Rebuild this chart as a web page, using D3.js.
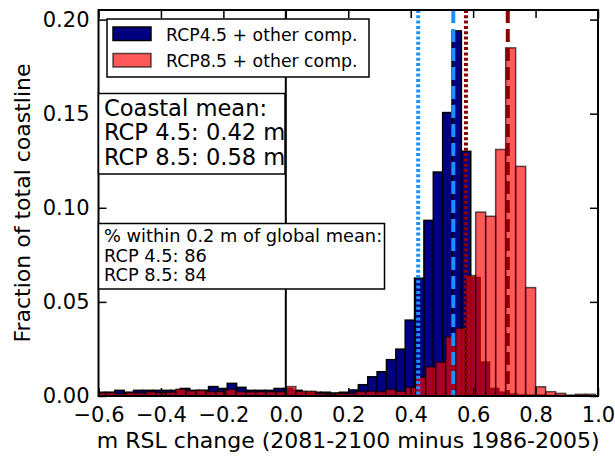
<html>
<head>
<meta charset="utf-8">
<script src="https://cdn.jsdelivr.net/npm/d3@7"></script>
<style>
  body { margin: 0; background: #fff; }
  text { font-family: "DejaVu Sans", sans-serif; }
</style>
</head>
<body>
<svg width="615" height="457"></svg>
<script>
// histogram bins (left edge of first bin, bin width) and fraction per bin
var blueStart = -0.6076, blueWidth = 0.03;
var blueValues = [0.002, 0.002, 0.003, 0.002, 0.003, 0.003, 0.003, 0.003, 0.003, 0.004,
                  0.003, 0.003, 0.005, 0.004, 0.0067, 0.0046, 0.003, 0.003, 0.003, 0.004,
                  0.004, 0.003, 0.002, 0.002, 0.002, 0.0016, 0.002, 0.0032, 0.006, 0.0102,
                  0.0129, 0.0193, 0.0249, 0.0403, 0.0626, 0.0933, 0.119, 0.1506, 0.194, 0.130,
                  0.063, 0.018, 0.004, 0.002, 0.001, 0.0005, 0.0005, 0.0005, 0.0003, 0.0003];
var redStart = -0.6078, redWidth = 0.032;
var redValues = [0.0017, 0.0018, 0.0012, 0.0018, 0.0016, 0.0022, 0.0018, 0.0020, 0.0036, 0.0028,
                 0.0030, 0.0023, 0.0024, 0.0035, 0.0023, 0.0022, 0.0022, 0.0023, 0.0023, 0.0050,
                 0.0025, 0.0025, 0.0014, 0.0010, 0.0014, 0.0014, 0.0023, 0.0025, 0.0023, 0.0035,
                 0.0025, 0.0046, 0.010, 0.0155, 0.018, 0.0315, 0.036, 0.064, 0.0977, 0.0955,
                 0.131, 0.185, 0.122, 0.0576, 0.0049, 0.0023, 0.0014, 0.0005, 0.0009, 0.0009];

// coastal means (dotted) and global means (dashed)
var coastalMeans = [0.424, 0.577];
var globalMeans = [0.5365, 0.711];

var xTicks = [-0.6, -0.4, -0.2, 0.0, 0.2, 0.4, 0.6, 0.8, 1.0];
var yTicks = [0.00, 0.05, 0.10, 0.15, 0.20];
var legendLabels = ["RCP4.5 + other comp.", "RCP8.5 + other comp."];
var meanLines = ["Coastal mean:", "RCP 4.5: 0.42 m", "RCP 8.5: 0.58 m"];
var pctLines = ["% within 0.2 m of global mean:", "RCP 4.5: 86", "RCP 8.5: 84"];

var svg = d3.select("svg");
var pl = 98.5, pr = 598, pt = 10, pb = 396;

var x = d3.scaleLinear().domain([-0.6, 1.0]).range([pl, pr]);
var y = d3.scaleLinear().domain([0, 0.2051]).range([pb, pt]);

svg.append("defs").append("clipPath").attr("id", "clip")
  .append("rect").attr("x", pl).attr("y", pt)
  .attr("width", pr - pl).attr("height", pb - pt);

var plot = svg.append("g").attr("clip-path", "url(#clip)");

// blue histogram
plot.append("g").selectAll("rect").data(blueValues).enter().append("rect")
  .attr("x", function(d, i) { return x(blueStart + i * blueWidth); })
  .attr("width", function(d, i) { return x(blueStart + (i + 1) * blueWidth) - x(blueStart + i * blueWidth); })
  .attr("y", function(d) { return y(d); })
  .attr("height", function(d) { return y(0) - y(d); })
  .attr("fill", "#000080").attr("stroke", "#000").attr("stroke-width", 1.5);

// red histogram, semi transparent
plot.append("g").selectAll("rect").data(redValues).enter().append("rect")
  .attr("x", function(d, i) { return x(redStart + i * redWidth); })
  .attr("width", function(d, i) { return x(redStart + (i + 1) * redWidth) - x(redStart + i * redWidth); })
  .attr("y", function(d) { return y(d); })
  .attr("height", function(d) { return y(0) - y(d); })
  .attr("fill", "#ff0000").attr("fill-opacity", 0.65)
  .attr("stroke", "#000").attr("stroke-opacity", 0.65).attr("stroke-width", 1.5);

// zero line
plot.append("line").attr("x1", x(0)).attr("x2", x(0)).attr("y1", pt).attr("y2", pb)
  .attr("stroke", "#000").attr("stroke-width", 2);

// mean lines
var lineColors = ["#1e90ff", "#8b0000"];
coastalMeans.forEach(function(m, i) {
  plot.append("line").attr("x1", x(m)).attr("x2", x(m)).attr("y1", pt).attr("y2", pb)
    .attr("stroke", lineColors[i]).attr("stroke-width", 4).attr("stroke-dasharray", "3,2.3");
});
globalMeans.forEach(function(m, i) {
  plot.append("line").attr("x1", x(m)).attr("x2", x(m)).attr("y1", pt).attr("y2", pb)
    .attr("stroke", lineColors[i]).attr("stroke-width", 4).attr("stroke-dasharray", "13,6");
});

// axes with inward ticks on all sides
var fmtX = d3.format(".1f"), fmtY = d3.format(".2f");
var ax = svg.append("g").attr("transform", "translate(0," + pb + ")")
  .call(d3.axisBottom(x).tickValues(xTicks).tickFormat(fmtX).tickSizeInner(-8).tickSizeOuter(0).tickPadding(11));
var ay = svg.append("g").attr("transform", "translate(" + pl + ",0)")
  .call(d3.axisLeft(y).tickValues(yTicks).tickFormat(fmtY).tickSizeInner(-8).tickSizeOuter(0).tickPadding(9));
var at = svg.append("g").attr("transform", "translate(0," + pt + ")")
  .call(d3.axisTop(x).tickValues(xTicks).tickFormat("").tickSizeInner(-8).tickSizeOuter(0));
var ar = svg.append("g").attr("transform", "translate(" + pr + ",0)")
  .call(d3.axisRight(y).tickValues(yTicks).tickFormat("").tickSizeInner(-8).tickSizeOuter(0));
[ax, ay, at, ar].forEach(function(a) {
  a.select(".domain").remove();
  a.selectAll(".tick line").attr("stroke", "#000").attr("stroke-width", 1.5);
  a.selectAll("text").attr("fill", "#000").style("font-size", "21px").style("font-family", "DejaVu Sans");
});
svg.append("rect").attr("x", pl).attr("y", pt).attr("width", pr - pl).attr("height", pb - pt)
  .attr("fill", "none").attr("stroke", "#000").attr("stroke-width", 2);

// axis labels
svg.append("text").attr("x", (pl + pr) / 2).attr("y", 448).attr("text-anchor", "middle")
  .style("font-size", "22px").text("m RSL change (2081-2100 minus 1986-2005)");
svg.append("text").attr("transform", "translate(30," + ((pt + pb) / 2) + ") rotate(-90)")
  .attr("text-anchor", "middle").style("font-size", "22px").text("Fraction of total coastline");

// legend
var lg = svg.append("g");
lg.append("rect").attr("x", 107).attr("y", 19).attr("width", 262).attr("height", 58)
  .attr("fill", "#fff").attr("stroke", "#000").attr("stroke-width", 1.5);
legendLabels.forEach(function(t, i) {
  var yy = 27 + i * 26.5;
  lg.append("rect").attr("x", 113).attr("y", yy).attr("width", 38).attr("height", 13.5)
    .attr("fill", i === 0 ? "#000080" : "#ff0000").attr("fill-opacity", i === 0 ? 1 : 0.65)
    .attr("stroke", "#000").attr("stroke-opacity", i === 0 ? 1 : 0.65).attr("stroke-width", 1.5);
  lg.append("text").attr("x", 166).attr("y", yy + 13.5).style("font-size", "17.3px").text(t);
});

// text boxes
function textBox(lines, x0, y0, w, h, size, first, step) {
  var g = svg.append("g");
  g.append("rect").attr("x", x0).attr("y", y0).attr("width", w).attr("height", h)
    .attr("fill", "#fff").attr("stroke", "#000").attr("stroke-width", 1.5);
  lines.forEach(function(t, i) {
    g.append("text").attr("x", x0 + 5.5).attr("y", y0 + first + i * step)
      .style("font-size", size + "px").text(t);
  });
}
textBox(meanLines, pl, 93.5, 186.5, 80.5, 22.6, 22, 24.6);
textBox(pctLines, pl, 223.5, 286, 65.5, 17.8, 18.5, 19.7);
</script>
</body>
</html>
